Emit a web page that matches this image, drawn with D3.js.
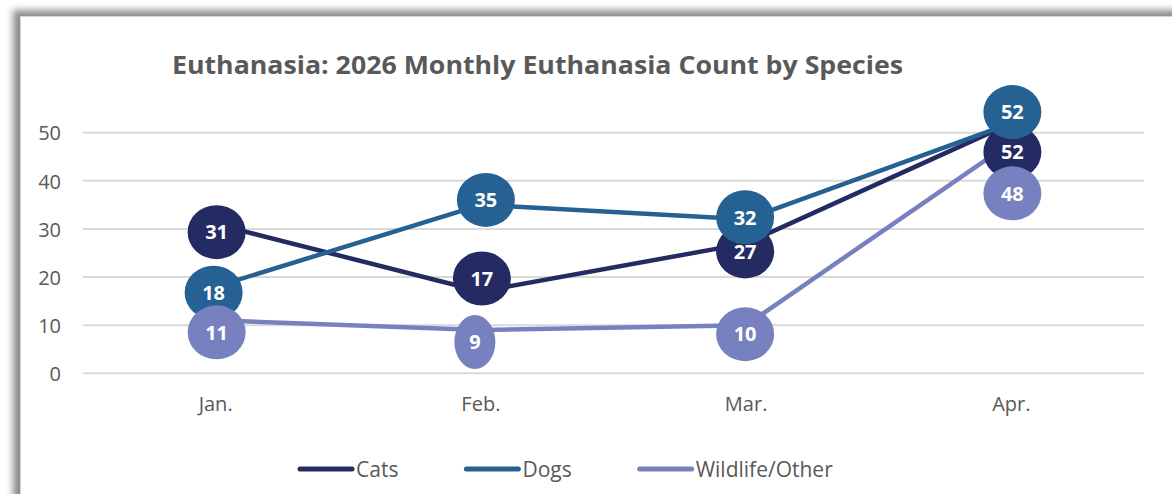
<!DOCTYPE html>
<html>
<head>
<meta charset="utf-8">
<script src="https://cdn.jsdelivr.net/npm/d3@7"></script>
<style>
  html, body { margin: 0; padding: 0; background: #ffffff; width: 1172px; height: 494px; overflow: hidden; }
  #frame { position: absolute; left: 20px; top: 16px; width: 1200px; height: 520px; background: #fff;
           box-shadow: -6px -5px 7px 1px rgba(0,0,0,0.45); border-left: 1px solid #d4d4d4; border-top: 1px solid #d4d4d4; }
  svg { position: absolute; left: 0; top: 0; }
  text { font-family: "Open Sans", "DejaVu Sans", sans-serif; }
</style>
</head>
<body>
<div id="frame"></div>
<svg id="chart" width="1172" height="494"></svg>
<script>
// ---- data ----
const months = ["Jan.", "Feb.", "Mar.", "Apr."];
const seriesNames = ["Cats", "Dogs", "Wildlife/Other"];
const cats = [31, 17, 27, 52];
const dogs = [18, 35, 32, 52];
const wildlife = [11, 9, 10, 48];
const yTicks = [0, 10, 20, 30, 40, 50];
const titleText = "Euthanasia: 2026 Monthly Euthanasia Count by Species";

// ---- styling / layout ----
const colors = ["#232b62", "#256192", "#7881c0"];
const seriesValues = [cats, dogs, wildlife];
// label nudges (px) mimicking the reference's callout placement
const labelNudge = [
  [[1, 8], [1, -13], [-1, 8], [1, 29]],
  [[-2, 6], [5, -5], [-1, -2], [1, -11]],
  [[1, 12], [-6, 12], [-1, 9], [1, 51]]
];

const svg = d3.select("#chart");
const margin = { left: 83, right: 1144, top: 132.7, bottom: 373.3 };

const x = d3.scaleBand().domain(months).range([margin.left, margin.right]).padding(0);
const y = d3.scaleLinear().domain([0, 50]).range([margin.bottom, margin.top]);
const cx = m => x(m) + x.bandwidth() / 2;

// title
svg.append("text")
  .attr("x", 172).attr("y", 74)
  .attr("font-size", 25.5).attr("font-weight", 700).attr("fill", "#595959")
  .attr("textLength", 731).attr("lengthAdjust", "spacingAndGlyphs")
  .text(titleText);

// gridlines
svg.append("g").selectAll("line").data(yTicks).join("line")
  .attr("x1", margin.left).attr("x2", margin.right)
  .attr("y1", d => y(d)).attr("y2", d => y(d))
  .attr("stroke", "#d9d9d9").attr("stroke-width", 2);

// y axis labels
const yAxis = d3.axisLeft(y).tickValues(yTicks).tickSize(0).tickPadding(0).tickFormat(d3.format("d"));
const yG = svg.append("g").attr("transform", "translate(61,0)").call(yAxis);
yG.select(".domain").remove();
yG.selectAll("text").attr("font-size", 20).attr("fill", "#595959")
  .attr("font-family", "'Open Sans', sans-serif").attr("dy", "0.36em");

// x axis labels
const xAxis = d3.axisBottom(x).tickSize(0).tickPadding(0);
const xG = svg.append("g").attr("transform", "translate(0,393)").call(xAxis);
xG.select(".domain").remove();
xG.selectAll("text").attr("font-size", 20).attr("fill", "#595959")
  .attr("font-family", "'Open Sans', sans-serif").attr("dy", "0.88em");

// lines
const line = d3.line().x((d, i) => cx(months[i])).y(d => y(d));
seriesValues.forEach((vals, s) => {
  svg.append("path").datum(vals)
    .attr("d", line)
    .attr("fill", "none")
    .attr("stroke", colors[s])
    .attr("stroke-width", 4.5)
    .attr("stroke-linejoin", "round")
    .attr("stroke-linecap", "round");
});

// data labels
seriesValues.forEach((vals, s) => {
  const g = svg.append("g");
  vals.forEach((v, i) => {
    const px = cx(months[i]) + labelNudge[s][i][0];
    const py = y(v) + labelNudge[s][i][1];
    const rx = String(v).length > 1 ? 29 : 20.5;
    g.append("ellipse").attr("cx", px).attr("cy", py).attr("rx", rx).attr("ry", 27)
      .attr("fill", colors[s]);
    g.append("text").attr("x", px).attr("y", py).attr("dy", "0.36em")
      .attr("text-anchor", "middle").attr("font-size", 20).attr("font-weight", 700)
      .attr("fill", "#ffffff").text(v);
  });
});

// legend
const legend = svg.append("g");
let lx = 298;
seriesNames.forEach((name, s) => {
  legend.append("line").attr("x1", lx + 2).attr("x2", lx + 54).attr("y1", 469).attr("y2", 469)
    .attr("stroke", colors[s]).attr("stroke-width", 5).attr("stroke-linecap", "round");
  const t = legend.append("text").attr("x", lx + 58).attr("y", 469).attr("dy", "0.36em")
    .attr("font-size", 21).attr("fill", "#595959").text(name);
  const w = t.node().getComputedTextLength();
  lx = lx + 58 + w + 66;
});
</script>
</body>
</html>
